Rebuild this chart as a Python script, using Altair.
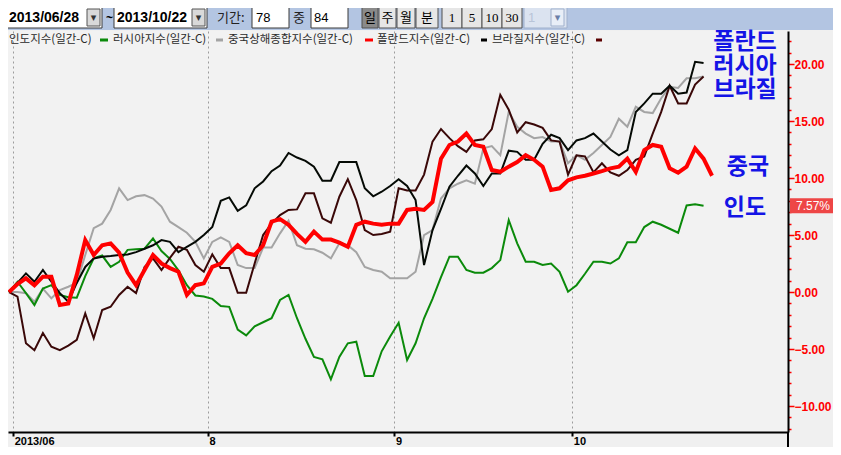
import altair as alt
import pandas as pd

# ---------------- data ----------------
names = ["인도지수", "러시아지수", "중국상해종합지수", "폴란드지수", "브라질지수"]
colors = ["#0b8a0b", "#a4a4a4", "#ff0000", "#050a05", "#3a0808"]
widths = [2, 2, 4, 2, 2]

india = [0, 0.9, -0.1, -1.14, 0.3, 0.6, -0.25, -0.45, -0.5, 1.4, 2.95, 3.2, 2.2, 2.65, 3.7,
         3.75, 3.8, 4.7, 3.6, 2.9, 1.9, 0.6, -0.3, -0.4, -0.6, -1.23, -1.3, -3.3, -3.8, -3.0,
         -2.65, -2.3, -0.7, -0.26, -2.3, -4.1, -5.7, -5.9, -7.66, -5.7, -4.5, -4.36, -7.37, -7.37,
         -5.2, -3.9, -2.7, -5.96, -4.5, -2.3, -0.6, 1.3, 3.1, 3.1, 1.93, 1.7, 1.7, 2.1, 2.8, 6.3,
         4.27, 2.66, 2.66, 2.37, 2.5, 1.78, 0.03, 0.6, 1.6, 2.66, 2.66, 2.5, 2.95, 4.36, 4.36,
         5.7, 6.17, 5.9, 5.55, 5.2, 7.6, 7.7, 7.57]
russia = [0, 0.0, -0.1, -0.85, 0.3, -0.55, 0.17, 0.46, 0.8, 3.25, 5.6, 6.0, 7.2, 9.1, 8.07,
          8.4, 8.5, 8.2, 7.5, 6.17, 5.7, 5.2, 4.4, 2.95, 4.4, 4.8, 4.4, 2.37, 2.1, 2.1, 3.9,
          3.9, 5.15, 6.25, 4.1, 3.8, 3.75, 3.45, 2.95, 4.27, 4.1, 3.5, 2.2, 1.93, 1.78, 1.2,
          1.2, 1.2, 1.78, 5.0, 5.44, 8.2, 9.1, 9.5, 9.8, 9.5, 12.6, 12.8, 12.0, 15.8, 14.5,
          13.9, 13.5, 13.6, 13.2, 13.2, 11.3, 12.0, 11.6, 12.2, 12.9, 13.6, 15.2, 14.5, 16.25,
          15.8, 15.7, 17.0, 18.0, 17.9, 18.75, 18.75, 18.9]
china = [0, 0.7, 1.2, 0.6, 1.35, 1.35, -1.14, -1.0, 1.5, 4.56, 3.25, 4.1, 4.27, 3.45, 1.7,
         0.6, 1.93, 3.25, 2.5, 2.1, 1.78, -0.26, 0.6, 0.76, 2.2, 2.5, 3.4, 4.1, 3.4, 3.25, 4.1,
         6.17, 6.4, 5.9, 5.1, 4.4, 5.3, 4.6, 4.6, 4.33, 3.97, 5.9, 6.17, 6.0, 5.9, 6.0, 6.0,
         7.2, 7.3, 7.2, 7.9, 11.7, 12.9, 13.2, 13.9, 12.9, 12.75, 10.7, 10.55, 11.0, 11.4,
         12.0, 11.6, 11.0, 8.95, 9.1, 9.8, 10.06, 10.2, 10.4, 10.6, 10.85, 11.0, 11.7, 10.55,
         12.45, 12.9, 12.75, 10.85, 10.47, 11.0, 12.6, 11.7, 10.2]
poland = [0, 0.8, 1.64, 0.9, 1.93, 0.9, -0.1, -0.85, 0.8, 2.2, 2.95, 3.1, 3.16, 3.25, 3.3,
          3.5, 3.8, 4.1, 4.56, 4.4, 3.5, 3.97, 4.4, 5.0, 5.7, 8.0, 8.3, 7.13, 7.6, 9.1, 9.7,
          10.6, 11.1, 12.2, 11.8, 11.5, 11.0, 9.76, 9.76, 11.4, 11.4, 11.4, 9.1, 8.4, 8.8, 9.3,
          9.9, 9.3, 8.07, 2.37, 5.44, 7.3, 9.24, 10.2, 11.1, 10.4, 9.3, 10.4, 10.4, 12.4, 12.3,
          11.6, 11.6, 13.0, 13.8, 13.5, 12.45, 13.3, 13.5, 13.9, 13.2, 12.5, 12.0, 12.45, 15.8,
          16.55, 17.4, 17.4, 18.1, 17.4, 17.5, 20.2, 20.1]
brazil = [0, -0.4, -4.5, -5.1, -3.6, -4.8, -5.1, -4.7, -4.2, -1.87, -4.06, -1.58, -1.29,
          -0.26, 0.46, -0.1, 2.2, 2.95, 1.93, 3.0, 3.97, 3.7, 2.37, 1.78, 3.3, 2.1, 2.1, -0.06,
          -0.06, 2.5, 5.0, 6.0, 6.75, 7.2, 7.25, 8.66, 8.66, 6.46, 6.08, 8.36, 9.9, 8.07, 5.44,
          5.0, 5.1, 5.3, 9.1, 8.9, 8.9, 10.3, 13.2, 14.3, 13.5, 12.8, 12.3, 13.3, 13.4, 14.3,
          17.3, 16.0, 14.0, 14.9, 14.7, 14.4, 13.3, 13.2, 10.3, 12.0, 11.9, 10.5, 11.3, 10.5,
          10.2, 10.7, 11.6, 11.9, 13.9, 15.8, 18.1, 16.55, 16.55, 18.2, 18.9]

month_ticks = [0.5, 23.5, 45.5, 66.5]
month_labels = ["2013/06", "8", "9", "10"]
y_ticks = list(range(-12, 23))

annot_top = ["폴란드", "러시아", "브라질"]
annot_china = "중국"
annot_india = "인도"

series = {"인도지수": india, "러시아지수": russia, "중국상해종합지수": china,
          "폴란드지수": poland, "브라질지수": brazil}
draw_order = ["러시아지수", "인도지수", "브라질지수", "폴란드지수", "중국상해종합지수"]

# ---------------- scales / axes ----------------
x_scale = alt.Scale(domain=[-0.12, 91.97], nice=False, zero=False)
y_scale = alt.Scale(domain=[-12.28, 22.9], nice=False, zero=False)

x_expr = "''"
for v, l in reversed(list(zip(month_ticks, month_labels))):
    x_expr = f"datum.value == {v} ? '{l}' : ({x_expr})"

x_axis = alt.Axis(values=month_ticks, labelExpr=x_expr, grid=True, gridDash=[2, 3],
                  gridColor="#9c9c9c", gridWidth=1, domainColor="#000000", domainWidth=2,
                  tickColor="#000000", tickSize=4, tickWidth=2, labelAlign="left",
                  labelBaseline="top", labelPadding=-1, labelOffset=1,
                  labelFont="Liberation Sans", labelFontSize=11, labelFontWeight="bold",
                  labelColor="#000000", labelFlush=False, labelOverlap=False, title=None)

y_axis = alt.Axis(orient="right", values=y_ticks,
                  labelExpr="datum.value % 5 === 0 ? format(datum.value, '.2f') : ''",
                  grid=False, domainColor="#000000", domainWidth=2, tickColor="#ff0000",
                  tickWidth=1.5,
                  tickSize={"condition": {"test": "datum.value % 5 === 0", "value": 6}, "value": 3},
                  labelColor="#ff0000", labelFont="Liberation Sans", labelFontSize=12,
                  labelFontWeight="bold", labelPadding=0, labelOverlap=False,
                  labelFlush=False, title=None)

layers = []
for nm in draw_order:
    vals = series[nm]
    i = names.index(nm)
    d = pd.DataFrame({"day": list(range(len(vals))), "value": vals, "name": nm})
    layers.append(
        alt.Chart(d).mark_line(color=colors[i], strokeWidth=widths[i], clip=True).encode(
            x=alt.X("day:Q", scale=x_scale, axis=x_axis),
            y=alt.Y("value:Q", scale=y_scale, axis=y_axis),
        )
    )

one = pd.DataFrame({"k": [0]})


def rect(x1, x2, y1, y2, fill, stroke=None, sw=1):
    kw = {"fill": fill}
    if stroke:
        kw.update(stroke=stroke, strokeWidth=sw)
    return alt.Chart(one).mark_rect(**kw).encode(
        x=alt.value(x1), x2=alt.value(x2), y=alt.value(y1), y2=alt.value(y2))


def text(t, x, y, size=12, color="#000000", weight="normal", align="left",
         font="Noto Sans CJK KR", baseline="middle", **kw):
    return alt.Chart(one).mark_text(text=t, fontSize=size, color=color, fontWeight=weight,
                                    align=align, baseline=baseline, font=font, **kw).encode(
        x=alt.value(x), y=alt.value(y))


def rule(x1, x2, y1, y2, color, w):
    return alt.Chart(one).mark_rule(color=color, strokeWidth=w).encode(
        x=alt.value(x1), x2=alt.value(x2), y=alt.value(y1), y2=alt.value(y2))


deco = []
# toolbar band
TY = -13  # toolbar text centre
deco.append(rect(-8, 833, -40, -1, "#b3c5e2"))
deco.append(rect(-5, 94, -24, -3, "#ffffff", "#3a3a3a"))
deco.append(text("2013/06/28", 1, TY, 14, weight="bold", font="Liberation Sans"))
deco.append(rect(79, 92, -22, -5, "#d9d9d9", "#555555"))
deco.append(text("▾", 85.5, TY, 11, color="#333333", align="center", font="DejaVu Sans"))
deco.append(text("~", 98, TY, 12, weight="bold", font="Liberation Sans"))
deco.append(rect(106, 199, -24, -3, "#ffffff", "#3a3a3a"))
deco.append(text("2013/10/22", 109, TY, 14, weight="bold", font="Liberation Sans"))
deco.append(rect(184, 197, -22, -5, "#d9d9d9", "#555555"))
deco.append(text("▾", 190.5, TY, 11, color="#333333", align="center", font="DejaVu Sans"))
deco.append(text("기간:", 209, TY, 13, color="#222222"))
deco.append(rect(244, 281, -24, -3, "#ffffff", "#3a3a3a"))
deco.append(text("78", 248, TY, 13, font="Liberation Sans"))
deco.append(text("중", 285, TY, 13, color="#222222"))
deco.append(rect(303, 340, -24, -3, "#ffffff", "#3a3a3a"))
deco.append(text("84", 306, TY, 13, font="Liberation Sans"))
buttons = [("일", 354, 370), ("주", 371, 388), ("월", 389, 407), ("분", 408, 430),
           ("1", 434, 454), ("5", 454, 474), ("10", 474, 494), ("30", 494, 514)]
for lbl, b1, b2 in buttons:
    fill = "#8a8a8a" if lbl == "일" else "#e6e6e6"
    deco.append(rect(b1, b2, -25, -3, fill, "#505050"))
    deco.append(text(lbl, (b1 + b2) / 2, TY, 13, align="center",
                     font="Noto Sans CJK KR" if not lbl.isdigit() else "Liberation Sans Narrow"))
deco.append(rect(516, 559, -24, -3, "#dbe3f0", "#9fb0cc"))
deco.append(text("1", 520, TY, 13, color="#b8c4d8", font="Liberation Sans"))
deco.append(rect(543, 556, -22, -5, "#e8eef7", "#9fb0cc"))
deco.append(text("▾", 549.5, TY, 11, color="#6b7fa8", align="center", font="DejaVu Sans"))

# legend row
leg = [("인도지수(일간-C)", 1, 92, 100), ("러시아지수(일간-C)", 105, 208, 215),
       ("중국상해종합지수(일간-C)", 220, 357, 365), ("폴란드지수(일간-C)", 369, 473, 479),
       ("브라질지수(일간-C)", 484, 588, 594)]
leg_colors = [colors[0], colors[1], colors[2], "#000000", "#5a0000"]
for (t, tx, m1, m2), c in zip(leg, leg_colors):
    deco.append(text(t, tx, 9, 11.5, color="#2a2a2a"))
    deco.append(rule(m1, m2, 9, 9, c, 3))

# annotations (blue)
deco.append(text(annot_top, 737, 0, 23, color="#1414e6", weight="bold", align="center",
                 baseline="top", lineHeight=24))
deco.append(text(annot_china, 740, 136, 23, color="#1414e6", weight="bold", align="center"))
deco.append(text(annot_india, 737, 177, 23, color="#1414e6", weight="bold", align="center"))

# last-value badge
last = india[-1]
badge = alt.Chart(one).mark_rect(fill="#ee4646").encode(
    x=alt.value(782), x2=alt.value(833),
    y=alt.Y("a:Q", scale=y_scale, axis=y_axis), y2="b:Q",
).transform_calculate(a=f"{last + 0.66}", b=f"{last - 0.66}")
badge_txt = alt.Chart(one).mark_text(text=f"{last:.2f}%", color="#ffffff", fontSize=12,
                                     align="right", baseline="middle",
                                     font="Liberation Sans").encode(
    x=alt.value(822), y=alt.Y("a:Q", scale=y_scale, axis=y_axis)
).transform_calculate(a=f"{last}")

# right border continues through the date band
deco.append(rule(780, 780, 401, 420, "#000000", 2))

chart = alt.layer(*layers, badge, badge_txt, *deco).properties(
    width=780, height=401,
    padding={"left": 0, "top": 23, "right": 45, "bottom": 15},
    autosize=alt.AutoSizeParams(type="none"),
    background="#f0f0f0",
).configure_view(stroke=None, fill="#f2f2f2")

chart.save("out.html", embed_options={"renderer": "svg", "actions": False})
